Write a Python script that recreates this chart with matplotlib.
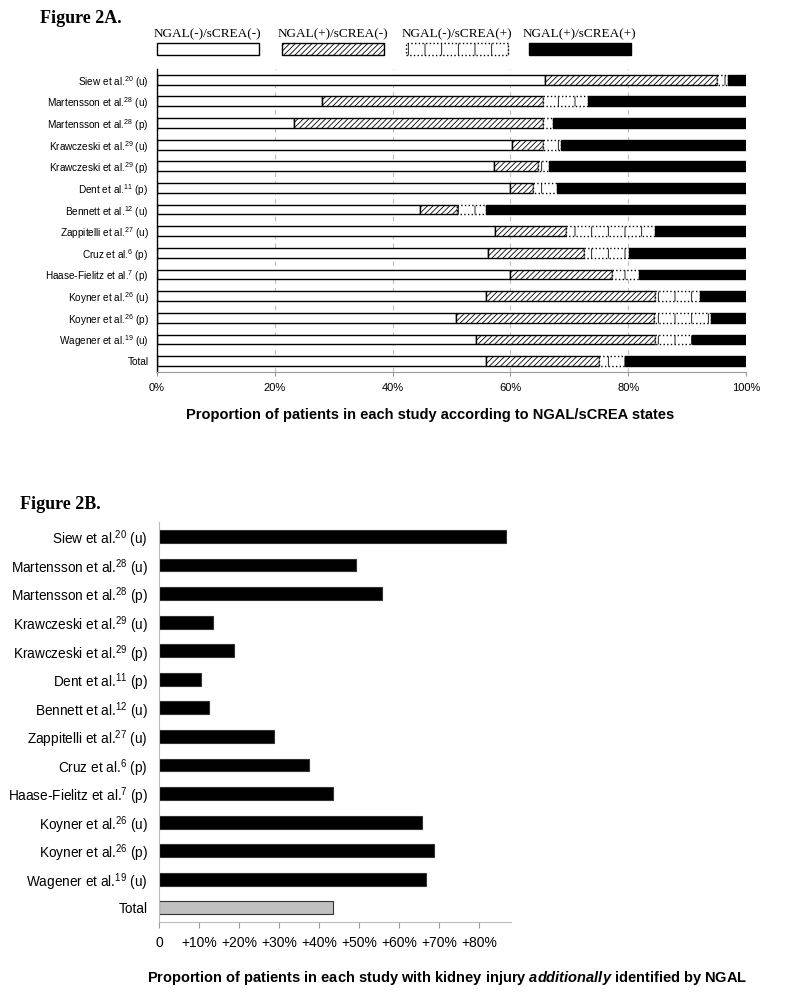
import numpy as np
import matplotlib.pyplot as plt
from matplotlib.patches import Rectangle

plt.rcParams['font.family'] = ['Liberation Sans', 'DejaVu Sans']
plt.rcParams['mathtext.fontset'] = 'custom'
plt.rcParams['mathtext.rm'] = 'Liberation Sans'
plt.rcParams['mathtext.it'] = 'Liberation Sans:italic:bold'
plt.rcParams['mathtext.default'] = 'regular'
plt.rcParams['hatch.linewidth'] = 0.6

studies = ['Siew et al.$^{20}$ (u)', 'Martensson et al.$^{28}$ (u)',
           'Martensson et al.$^{28}$ (p)', 'Krawczeski et al.$^{29}$ (u)',
           'Krawczeski et al.$^{29}$ (p)', 'Dent et al.$^{11}$ (p)',
           'Bennett et al.$^{12}$ (u)', 'Zappitelli et al.$^{27}$ (u)',
           'Cruz et al.$^{6}$ (p)', 'Haase-Fielitz et al.$^{7}$ (p)',
           'Koyner et al.$^{26}$ (u)', 'Koyner et al.$^{26}$ (p)',
           'Wagener et al.$^{19}$ (u)', 'Total']

# percent of patients per state (figure 2A)
neg_neg = [65.9, 28.0, 23.3, 60.3, 57.2, 60.0, 44.7, 57.4, 56.2, 60.0, 55.8, 50.8, 54.2, 55.8]
pos_neg = [29.2, 37.6, 42.3, 5.3, 7.4, 3.9, 6.2, 12.1, 16.2, 17.2, 28.8, 33.6, 30.4, 19.2]
neg_pos = [1.9, 7.6, 1.6, 2.9, 2.0, 4.0, 5.0, 15.1, 7.8, 4.7, 7.6, 9.7, 6.2, 4.5]
pos_pos = [3.0, 26.8, 32.8, 31.5, 33.4, 32.1, 44.1, 15.4, 19.8, 18.1, 7.8, 5.9, 9.2, 20.5]
state_labels = ['NGAL(-)/sCREA(-)', 'NGAL(+)/sCREA(-)', 'NGAL(-)/sCREA(+)', 'NGAL(+)/sCREA(+)']

# additional patients identified by NGAL (figure 2B)
additional = [86.6, 49.1, 55.7, 13.6, 18.7, 10.6, 12.6, 28.7, 37.6, 43.6, 65.7, 68.6, 66.6, 43.6]
b_ticks = [0, 10, 20, 30, 40, 50, 60, 70, 80]
b_ticklabels = ['0', '+10%', '+20%', '+30%', '+40%', '+50%', '+60%', '+70%', '+80%']

styles = [dict(color='white', edgecolor='black', linewidth=1.0),
          dict(color='white', edgecolor='black', hatch='//////', linewidth=1.0),
          dict(color='white', edgecolor='black', hatch='|', linewidth=1.0, linestyle=':'),
          dict(color='black', edgecolor='black', linewidth=1.0)]

fig = plt.figure(figsize=(7.95, 9.97), dpi=100)

# ---- Figure 2A ----
fig.text(0.05, 0.981, 'Figure 2A.', family='Liberation Serif', weight='bold',
         fontsize=13, va='center')

ax1 = fig.add_axes([0.1975, 0.6269, 0.741, 0.304])
ind = np.arange(len(studies))
left = np.zeros(len(studies))
for vals, st in zip([neg_neg, pos_neg, neg_pos, pos_pos], styles):
    ax1.barh(ind, vals, 0.45, left=left, **st)
    left = left + np.array(vals)

ax1.set_ylim(13.5, -0.5)
ax1.set_xlim(0, 100)
ax1.set_yticks(ind)
ax1.set_yticklabels(studies, fontsize=7.2)
ax1.tick_params(axis='y', length=0, pad=6)
ax1.set_xticks([0, 20, 40, 60, 80, 100])
ax1.set_xticklabels(['0%', '20%', '40%', '60%', '80%', '100%'], fontsize=8)
ax1.tick_params(axis='x', length=3, color='#999999', pad=5)
ax1.xaxis.grid(True, linestyle=(0, (4, 4)), color='#bbbbbb', linewidth=0.8)
ax1.set_axisbelow(True)
ax1.spines['top'].set_visible(False)
ax1.spines['right'].set_visible(False)
ax1.spines['bottom'].set_color('#999999')
ax1.spines['left'].set_linewidth(1.0)

fig.text(0.541, 0.584, 'Proportion of patients in each study according to NGAL/sCREA states',
         ha='center', va='center', weight='bold', fontsize=10.5)

# legend drawn above the bars
box_x = [0.1975, 0.3547, 0.5107, 0.6654]
for bx, lab, st in zip(box_x, state_labels, styles):
    fig.text(bx + 0.064, 0.966, lab, family='Liberation Serif', fontsize=9.5,
             ha='center', va='center')
    fig.patches.append(Rectangle((bx, 0.9448), 0.128, 0.012, transform=fig.transFigure,
                                 facecolor=st['color'], edgecolor='black',
                                 hatch=st.get('hatch'), linewidth=1.0,
                                 linestyle=st.get('linestyle', '-')))

# ---- Figure 2B ----
fig.text(0.025, 0.4935, 'Figure 2B.', family='Liberation Serif', weight='bold',
         fontsize=13, va='center')

ax2 = fig.add_axes([0.2, 0.0752, 0.443, 0.401])
colors = ['black'] * (len(studies) - 1) + ['#c0c0c0']
ax2.barh(ind, additional, 0.45, color=colors, edgecolor='#333333', linewidth=0.8)
ax2.set_ylim(13.5, -0.5)
ax2.set_xlim(0, 88)
ax2.set_yticks(ind)
ax2.set_yticklabels(studies, fontsize=9.8)
ax2.tick_params(axis='y', length=0, pad=8)
ax2.set_xticks(b_ticks)
ax2.set_xticklabels(b_ticklabels, fontsize=10)
ax2.tick_params(axis='x', length=4, color='#999999', pad=6)
ax2.spines['top'].set_visible(False)
ax2.spines['right'].set_visible(False)
ax2.spines['bottom'].set_color('#bbbbbb')
ax2.spines['left'].set_color('#bbbbbb')

fig.text(0.563, 0.019, 'Proportion of patients in each study with kidney injury '
         '$\\mathit{additionally}$ identified by NGAL',
         ha='center', va='center', weight='bold', fontsize=10.5)

plt.savefig('out.png', dpi=100)
